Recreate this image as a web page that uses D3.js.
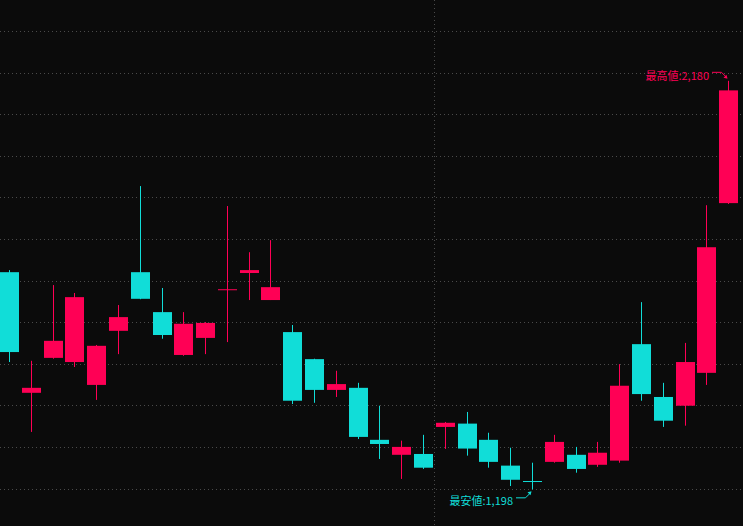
<!DOCTYPE html>
<html>
<head>
<meta charset="utf-8">
<script src="https://cdn.jsdelivr.net/npm/d3@7"></script>
<style>
  html, body { margin: 0; padding: 0; background: #0b0b0b; overflow: hidden; }
  svg { display: block; }
</style>
</head>
<body>
<svg id="chart"></svg>
<script>
// daily candles, left to right
const opens  = [1720, 1430, 1514, 1504, 1449, 1579, 1720, 1624, 1521, 1562, 1679, 1718, 1653, 1576, 1511, 1437, 1442,
                1317, 1281, 1283, 1348, 1356, 1317, 1255, 1218, 1264, 1281, 1257, 1267, 1547, 1420, 1399, 1478, 1886];
const highs  = [1725, 1507, 1689, 1670, 1545, 1641, 1927, 1682, 1624, 1600, 1879, 1768, 1797, 1593, 1512, 1483, 1454,
                1399, 1315, 1329, 1360, 1384, 1334, 1298, 1262, 1329, 1300, 1312, 1499, 1648, 1454, 1550, 1881, 2180];
const lows   = [1504, 1336, 1512, 1492, 1413, 1523, 1655, 1560, 1519, 1523, 1552, 1653, 1653, 1403, 1406, 1420, 1319,
                1271, 1223, 1247, 1295, 1279, 1250, 1206, 1198, 1262, 1238, 1252, 1262, 1411, 1348, 1351, 1449, 1884];
const closes = [1528, 1442, 1555, 1660, 1543, 1612, 1656, 1569, 1596, 1598, 1679, 1725, 1684, 1411, 1437, 1451, 1324,
                1307, 1300, 1250, 1358, 1296, 1264, 1221, 1218, 1312, 1247, 1286, 1447, 1427, 1363, 1504, 1780, 2157];
const gridValues = [1200, 1300, 1400, 1500, 1600, 1700, 1800, 1900, 2000, 2100, 2200, 2300];
const dividerIndex = 20;   // first candle after the dotted vertical line

const W = 743, H = 526;
const upColor = "#ff0055", downColor = "#11ddd8";

const svg = d3.select("#chart").attr("width", W).attr("height", H);
svg.append("rect").attr("width", W).attr("height", H).attr("fill", "#0b0b0b");

const idx = d3.range(opens.length);
const x = d3.scaleBand()
    .domain(idx)
    .range([-1.4, 739.5])
    .paddingInner(0.128)
    .paddingOuter(0.064);

const y = d3.scaleLinear()
    .domain([1200, 2200])
    .range([488.5, 72.5]);

const px = v => Math.round(v) + 0.5;

// grid
svg.append("g").selectAll("line")
    .data(gridValues)
    .join("line")
    .attr("x1", 0).attr("x2", W)
    .attr("y1", d => px(y(d))).attr("y2", d => px(y(d)))
    .attr("stroke", "#4a4a4a")
    .attr("stroke-dasharray", "1,3");

const xDiv = px(x(dividerIndex) - x.step() * x.paddingInner() / 2 - 0.5);
svg.append("line")
    .attr("x1", xDiv).attr("x2", xDiv)
    .attr("y1", 0).attr("y2", H)
    .attr("stroke", "#4a4a4a")
    .attr("stroke-dasharray", "1,3");

// colour: up if close > open, doji compares with previous close
const colorOf = i => {
    if (closes[i] !== opens[i]) return closes[i] > opens[i] ? upColor : downColor;
    return i > 0 && closes[i] < closes[i - 1] ? downColor : upColor;
};

const candles = svg.append("g").selectAll("g")
    .data(idx)
    .join("g");

candles.append("line")
    .attr("x1", i => Math.round(x(i)) + x.bandwidth() / 2)
    .attr("x2", i => Math.round(x(i)) + x.bandwidth() / 2)
    .attr("y1", i => y(highs[i]))
    .attr("y2", i => y(lows[i]))
    .attr("stroke", colorOf)
    .attr("stroke-width", 1);

candles.append("rect")
    .attr("x", i => Math.round(x(i)))
    .attr("width", x.bandwidth())
    .attr("y", i => y(Math.max(opens[i], closes[i])))
    .attr("height", i => Math.max(1, Math.abs(y(opens[i]) - y(closes[i]))))
    .attr("fill", colorOf);

// high / low callouts
const hiIdx = d3.maxIndex(highs), loIdx = d3.minIndex(lows);
const fmt = d3.format(",");

function callout(i, value, label, color, above) {
    const cx = Math.round(x(i)) + x.bandwidth() / 2;
    const cy = y(value);
    const s = above ? -1 : 1;
    const g = svg.append("g");
    g.append("polyline")
        .attr("points", [[cx - 16.5, cy + s * 8.5], [cx - 7, cy + s * 8.5], [cx - 2, cy + s * 3.5]].join(" "))
        .attr("fill", "none")
        .attr("stroke", color)
        .attr("stroke-width", 1);
    g.append("path")
        .attr("d", `M${cx - 1},${cy + s * 2} l-4,${s * 1} l3,${s * 3} z`)
        .attr("fill", color);
    g.append("text")
        .attr("x", cx - 19.5)
        .attr("y", above ? cy - 6 : cy + 10.5)
        .attr("text-anchor", "end")
        .attr("dominant-baseline", "central")
        .attr("fill", color)
        .style("font-family", "'Noto Sans CJK JP', 'DejaVu Sans', sans-serif")
        .style("font-size", "11px")
        .text(label + fmt(value));
}

callout(hiIdx, highs[hiIdx], "最高値:", upColor, true);
callout(loIdx, lows[loIdx], "最安値:", downColor, false);
</script>
</body>
</html>
